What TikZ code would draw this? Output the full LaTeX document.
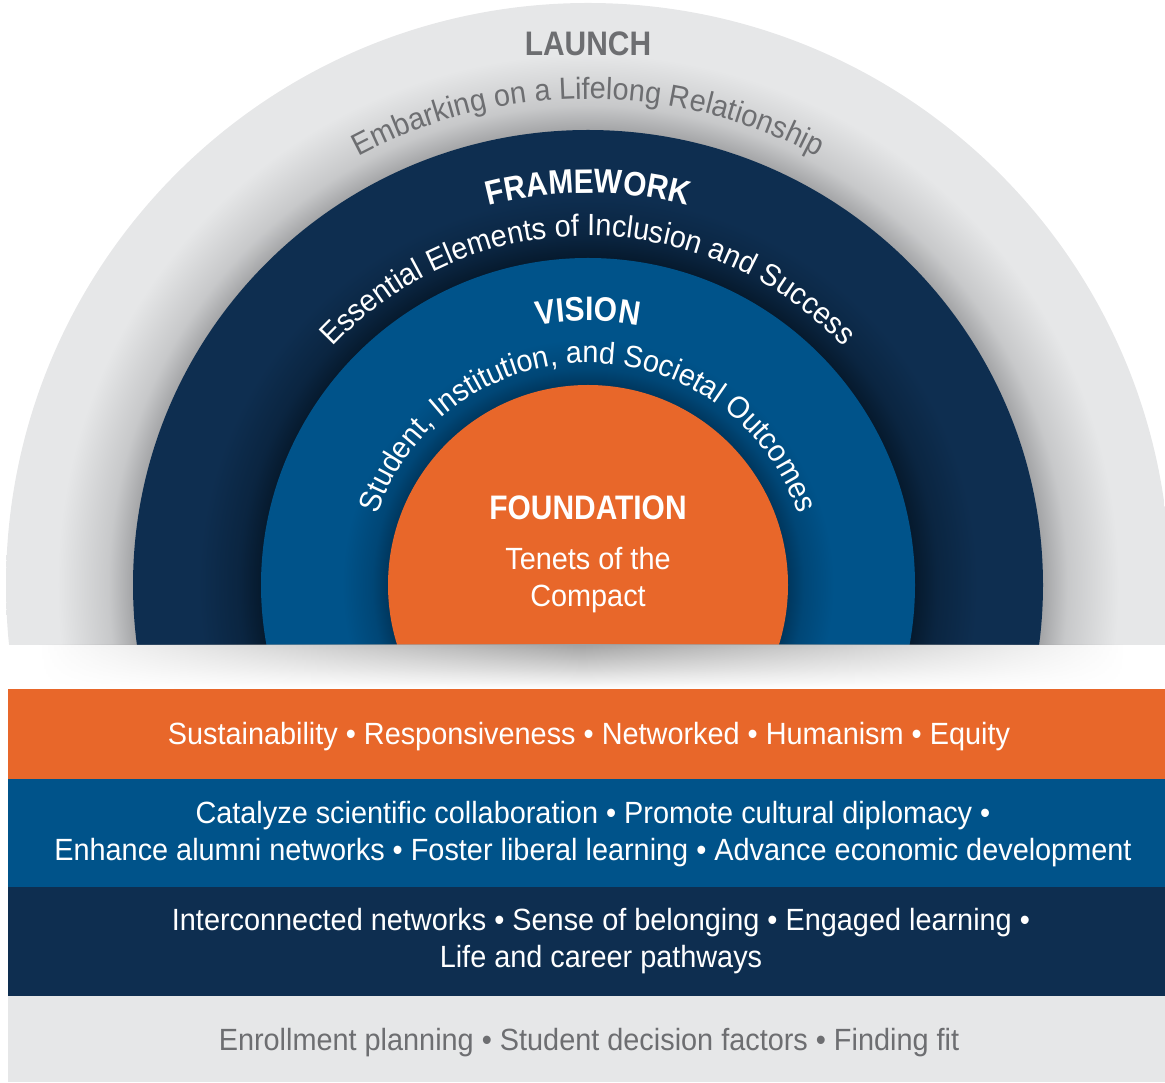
\documentclass[tikz,border=0pt]{standalone}
\usepackage{fontspec}
\usepackage{tikz}
\usetikzlibrary{decorations.text,fadings}

\newfontfamily\bandfont[FakeStretch=0.94]{Liberation Sans}
\newfontfamily\headfont[FakeStretch=0.88]{Liberation Sans}
\newcommand\bandsize{\bandfont\fontsize{30.7pt}{37pt}\selectfont}
\newcommand\headsize{\headfont\bfseries\fontsize{34pt}{40pt}\selectfont}

\definecolor{launchgray}{HTML}{E6E7E8}
\definecolor{launchshadow}{HTML}{A2A3A5}
\definecolor{framenavy}{HTML}{0E2E50}
\definecolor{frameshadow}{HTML}{061A2E}
\definecolor{visionblue}{HTML}{00538A}
\definecolor{visionshadow}{HTML}{00375E}
\definecolor{foundorange}{HTML}{E8672A}
\definecolor{textgray}{HTML}{6D6E71}

\pgfdeclareradialshading{launchring}{\pgfpoint{0bp}{0bp}}{color(0bp)=(launchshadow); color(19.5bp)=(launchshadow); color(20.6bp)=(launchshadow!45!launchgray); color(22.8bp)=(launchgray); color(50bp)=(launchgray)}
\pgfdeclareradialshading{framering}{\pgfpoint{0bp}{0bp}}{color(0bp)=(frameshadow); color(18bp)=(frameshadow); color(19.2bp)=(frameshadow!45!framenavy); color(21.4bp)=(framenavy); color(50bp)=(framenavy)}
\pgfdeclareradialshading{visionring}{\pgfpoint{0bp}{0bp}}{color(0bp)=(visionshadow); color(15.3bp)=(visionshadow); color(16.5bp)=(visionshadow!45!visionblue); color(18.8bp)=(visionblue); color(50bp)=(visionblue)}

\tikzfading[name=fade sides, left color=transparent!100, right color=transparent!100, middle color=transparent!0]

\begin{document}
\begin{tikzpicture}[x=1pt,y=1pt,
		title/.style={font=\headsize, inner sep=0pt},
		label/.style={font=\bandsize, inner sep=0pt, align=center},
		arctext/.style={decorate, decoration={text along path, text align=center}}]
		\useasboundingbox (0,0) rectangle (1165,1082);
%		\draw[help lines,step=50] (0,0) grid (1165,1082);
		\path (588,497) coordinate (centre);
		\path (0,437) coordinate (cut_left);
		\path (1165,1082) coordinate (top_right);
		\path (40,393) coordinate (shadow_left);
		\path (1125,437) coordinate (shadow_right);
		\path (8,393) coordinate (orange_top);
		\path (1165,303) coordinate (blue_top);
		\path (8,195) coordinate (navy_top);
		\path (1165,86) coordinate (gray_top);
		\path (8,0) coordinate (gray_bottom);

		% rings
		\begin{scope}
			\clip (cut_left) rectangle (top_right);
			\shade[shading=launchring] (centre) circle (582);
			\shade[shading=framering] (centre) circle (455);
			\shade[shading=visionring] (centre) circle (327);
			\fill[foundorange] (centre) circle (200);
		\end{scope}
		\shade[top color=black!36, bottom color=white, path fading=fade sides] (shadow_left) rectangle (shadow_right);

		% bands
		\fill[foundorange] (orange_top) rectangle (blue_top);
		\fill[visionblue] (navy_top) rectangle (blue_top);
		\fill[framenavy] (navy_top) rectangle (gray_top);
		\fill[launchgray] (gray_bottom) rectangle (gray_top);

		% titles and curved subtitles
		\path (588,1026) node(launch) [title, anchor=base, text=textgray] {LAUNCH};
		\path[arctext, decoration={text={|\bandsize|Embarking on a Lifelong Relationship}, text color=textgray}]
			(centre) ++(180:486) arc[start angle=180, end angle=0, radius=486];
		\path[arctext, decoration={text={|\headsize|FRAMEWORK}, text color=white}]
			(centre) ++(180:392) arc[start angle=180, end angle=0, radius=392];
		\path[arctext, decoration={text={|\bandsize|Essential Elements of Inclusion and Success}, text color=white}]
			(centre) ++(180:349) arc[start angle=180, end angle=0, radius=349];
		\path[arctext, decoration={text={|\headsize|VISION}, text color=white}]
			(centre) ++(180:264) arc[start angle=180, end angle=0, radius=264];
		\path[arctext, decoration={text={|\bandsize|Student, Institution, and Societal Outcomes}, text color=white}]
			(centre) ++(180:222) arc[start angle=180, end angle=0, radius=222];
		\path (588,562) node(foundation) [title, anchor=base, text=white] {FOUNDATION};
		\path (588,501.5) node(tenets) [label, text=white] {Tenets of the\\Compact};

		% band labels
		\path (589,345.3) node(tenets_list) [label, text=white] {Sustainability \textbullet{} Responsiveness \textbullet{} Networked \textbullet{} Humanism \textbullet{} Equity};
		\path (593,247.5) node(vision_list) [label, text=white] {Catalyze scientific collaboration \textbullet{} Promote cultural diplomacy \textbullet\\Enhance alumni networks \textbullet{} Foster liberal learning \textbullet{} Advance economic development};
		\path (601,140.5) node(framework_list) [label, text=white] {Interconnected networks \textbullet{} Sense of belonging \textbullet{} Engaged learning \textbullet\\Life and career pathways};
		\path (589,39.3) node(launch_list) [label, text=textgray] {Enrollment planning \textbullet{} Student decision factors \textbullet{} Finding fit};
\end{tikzpicture}
\end{document}
